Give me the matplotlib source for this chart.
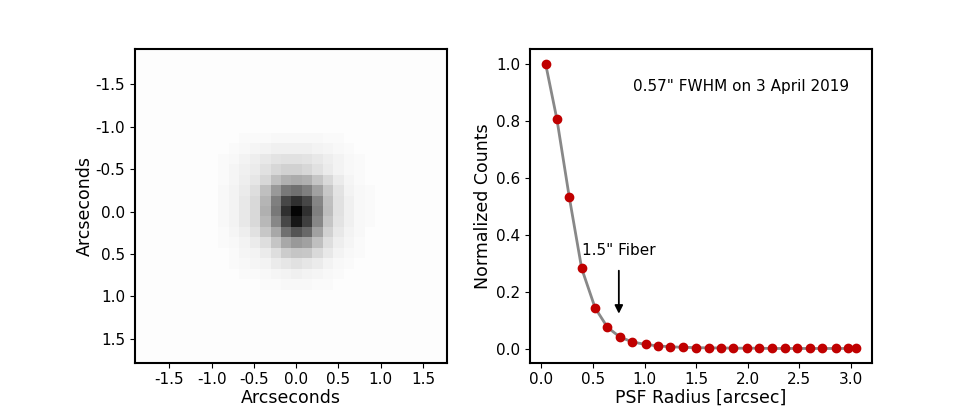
import numpy as np
import matplotlib
matplotlib.use("Agg")
import matplotlib.pyplot as plt

plt.rcParams['axes.unicode_minus'] = False
plt.rcParams['axes.linewidth'] = 1.5

# PSF cutout: 30x30 frame, central 15x15 block (rows/cols 8..22)
n_pix = 30
core_start = 8
background = 0.01
psf_core = [
    [0.01, 0.01, 0.02, 0.02, 0.02, 0.03, 0.03, 0.03, 0.03, 0.03, 0.02, 0.02, 0.01, 0.01, 0.01],
    [0.01, 0.02, 0.03, 0.04, 0.05, 0.06, 0.06, 0.06, 0.06, 0.05, 0.04, 0.03, 0.02, 0.01, 0.01],
    [0.02, 0.03, 0.05, 0.07, 0.09, 0.11, 0.12, 0.12, 0.11, 0.09, 0.07, 0.05, 0.03, 0.02, 0.01],
    [0.02, 0.04, 0.06, 0.08, 0.12, 0.16, 0.18, 0.18, 0.16, 0.12, 0.08, 0.05, 0.03, 0.02, 0.01],
    [0.02, 0.04, 0.07, 0.10, 0.16, 0.25, 0.31, 0.33, 0.31, 0.23, 0.15, 0.08, 0.04, 0.02, 0.01],
    [0.03, 0.05, 0.08, 0.13, 0.25, 0.40, 0.52, 0.56, 0.50, 0.37, 0.22, 0.11, 0.05, 0.03, 0.02],
    [0.03, 0.05, 0.09, 0.15, 0.29, 0.50, 0.72, 0.81, 0.72, 0.48, 0.25, 0.12, 0.06, 0.03, 0.02],
    [0.03, 0.05, 0.09, 0.15, 0.31, 0.53, 0.81, 0.98, 0.81, 0.50, 0.26, 0.12, 0.06, 0.03, 0.02],
    [0.03, 0.05, 0.09, 0.15, 0.28, 0.47, 0.72, 0.91, 0.75, 0.47, 0.23, 0.11, 0.06, 0.03, 0.02],
    [0.02, 0.04, 0.07, 0.12, 0.22, 0.34, 0.56, 0.67, 0.59, 0.37, 0.18, 0.09, 0.05, 0.03, 0.01],
    [0.02, 0.03, 0.05, 0.08, 0.13, 0.23, 0.34, 0.40, 0.37, 0.25, 0.13, 0.07, 0.04, 0.02, 0.01],
    [0.01, 0.02, 0.04, 0.05, 0.08, 0.13, 0.20, 0.23, 0.22, 0.15, 0.09, 0.05, 0.03, 0.02, 0.01],
    [0.01, 0.02, 0.03, 0.04, 0.05, 0.08, 0.10, 0.12, 0.10, 0.08, 0.05, 0.03, 0.02, 0.01, 0.01],
    [0.01, 0.01, 0.02, 0.02, 0.03, 0.04, 0.05, 0.06, 0.05, 0.04, 0.03, 0.02, 0.01, 0.01, 0.01],
    [0.01, 0.01, 0.01, 0.01, 0.02, 0.02, 0.03, 0.03, 0.03, 0.02, 0.02, 0.01, 0.01, 0.01, 0.01],
]
img_extent = [-1.91, 1.78, 1.78, -1.91]
img_ticks = [-1.5, -1.0, -0.5, 0.0, 0.5, 1.0, 1.5]

# radial profile
radius = [0.04, 0.15, 0.27, 0.39, 0.52, 0.64, 0.76, 0.88, 1.01, 1.13, 1.25, 1.37, 1.50,
          1.62, 1.74, 1.86, 1.99, 2.11, 2.23, 2.36, 2.48, 2.60, 2.72, 2.85, 2.97, 3.05]
counts = [1.0, 0.805, 0.532, 0.283, 0.145, 0.077, 0.043, 0.026, 0.017, 0.012, 0.009, 0.007,
          0.006, 0.005, 0.005, 0.004, 0.004, 0.004, 0.003, 0.003, 0.003, 0.003, 0.003, 0.003,
          0.003, 0.003]
fiber_radius = 0.75

image = np.full((n_pix, n_pix), background)
core = np.array(psf_core)
image[core_start:core_start + core.shape[0], core_start:core_start + core.shape[1]] = core

fig = plt.figure(figsize=(9.69, 4.15), dpi=100)
ax1 = fig.add_axes([0.139, 0.126, 0.322, 0.755])
ax2 = fig.add_axes([0.547, 0.126, 0.3526, 0.755])

ax1.imshow(image, cmap='gray_r', vmin=0, vmax=1, extent=img_extent,
           interpolation='nearest', aspect='auto')
ax1.set_xticks(img_ticks)
ax1.set_yticks(img_ticks)
ax1.set_xlim(img_extent[0], img_extent[1])
ax1.set_ylim(img_extent[2], img_extent[3])
ax1.set_xlabel('Arcseconds', fontsize=12.5, labelpad=1)
ax1.set_ylabel('Arcseconds', fontsize=12.5, labelpad=1)
ax1.tick_params(labelsize=11)

ax2.plot(radius, counts, color='#888888', lw=2, zorder=1)
ax2.plot(radius, counts, 'o', color='#c00000', ms=6, zorder=2)
ax2.set_xticks([0.0, 0.5, 1.0, 1.5, 2.0, 2.5, 3.0])
ax2.set_yticks([0.0, 0.2, 0.4, 0.6, 0.8, 1.0])
ax2.set_xlabel('PSF Radius [arcsec]', fontsize=12.5, labelpad=1)
ax2.set_ylabel('Normalized Counts', fontsize=12.5, labelpad=3)
ax2.tick_params(labelsize=11)

ax2.annotate('', xy=(fiber_radius, 0.115), xytext=(fiber_radius, 0.285),
             arrowprops=dict(arrowstyle='-|>', color='black', lw=1.3, mutation_scale=12))
ax2.text(0.39, 0.347, '1.5" Fiber', fontsize=11, va='center', ha='left')
ax2.text(0.885, 0.919, '0.57" FWHM on 3 April 2019', fontsize=11, va='center', ha='left')

fig.savefig('out.png', dpi=100)
